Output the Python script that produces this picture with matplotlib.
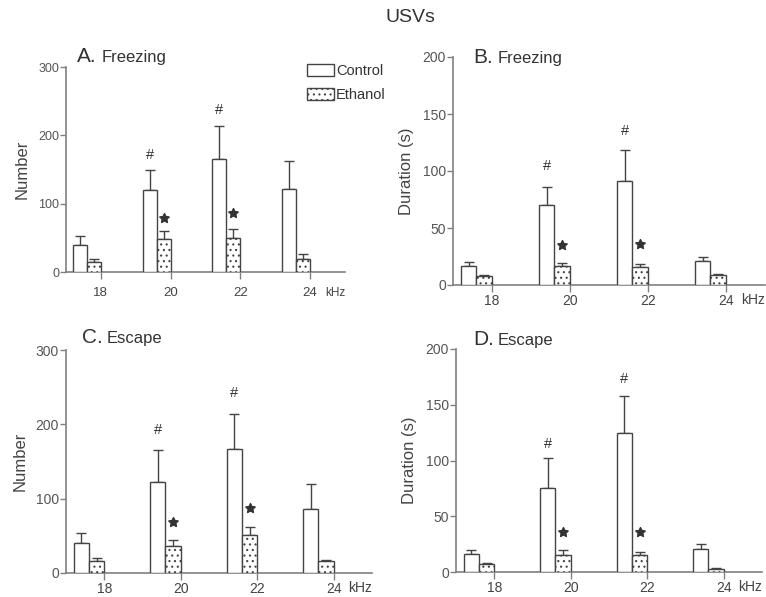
import matplotlib
matplotlib.use("Agg")
import matplotlib.pyplot as plt
from matplotlib.patches import Patch
import numpy as np

plt.rcParams['font.family'] = ['Liberation Sans', 'DejaVu Sans']
plt.rcParams['hatch.color'] = '#666666'
plt.rcParams['hatch.linewidth'] = 0.8

freqs = [18, 20, 22, 24]

# Panel A: Freezing, Number
a_ctrl = [40, 120, 165, 122]
a_ctrl_err = [53, 149, 214, 163]
a_eth = [15, 48, 50, 19]
a_eth_err = [19, 60, 63, 26]

# Panel B: Freezing, Duration
b_ctrl = [17, 70, 91, 21]
b_ctrl_err = [20, 86, 118, 25]
b_eth = [8, 17, 15.5, 9]
b_eth_err = [9, 19.5, 18, 9.5]

# Panel C: Escape, Number
c_ctrl = [41, 123, 167, 86]
c_ctrl_err = [54, 166, 214, 120]
c_eth = [15.5, 36, 51, 15.5]
c_eth_err = [20, 45, 62, 18]

# Panel D: Escape, Duration
d_ctrl = [16.5, 75.5, 125, 21]
d_ctrl_err = [19.5, 102, 158, 25.5]
d_eth = [7.5, 15, 15, 3]
d_eth_err = [8.5, 19.5, 18, 4]

sig_hash = [False, True, True, False]
sig_star = [False, True, True, False]

W, H = 766, 597
fig = plt.figure(figsize=(W / 100, H / 100), dpi=100)

def pos(left, bottom, width, height):
    return [left / W, 1 - bottom / H, width / W, height / H]

panels = [
    dict(rect=pos(66, 272, 279, 205), ymax=300, yticks=[0, 100, 200, 300],
         ylabel='Number', letter='A.', name='Freezing',
         ctrl=a_ctrl, ctrl_err=a_ctrl_err, eth=a_eth, eth_err=a_eth_err,
         hash_y=[0, 171, 237, 0], star_y=[0, 79, 86, 0], tfs=9, xfs=9.5, kfs=8.5,
         xpad=6, kdy=21, title=(77, 102, 62)),
    dict(rect=pos(453, 285, 312, 228), ymax=200, yticks=[0, 50, 100, 150, 200],
         ylabel='Duration (s)', letter='B.', name='Freezing',
         ctrl=b_ctrl, ctrl_err=b_ctrl_err, eth=b_eth, eth_err=b_eth_err,
         hash_y=[0, 104, 135, 0], star_y=[0, 35, 36, 0], tfs=10, xfs=10, kfs=10,
         xpad=1.5, kdy=15, title=(473, 498, 63)),
    dict(rect=pos(66, 573, 306, 223), ymax=300, yticks=[0, 100, 200, 300],
         ylabel='Number', letter='C.', name='Escape',
         ctrl=c_ctrl, ctrl_err=c_ctrl_err, eth=c_eth, eth_err=c_eth_err,
         hash_y=[0, 193, 242, 0], star_y=[0, 68, 87, 0], tfs=10, xfs=10, kfs=10,
         xpad=1.5, kdy=15, title=(82, 107, 343)),
    dict(rect=pos(456, 572, 306, 223), ymax=200, yticks=[0, 50, 100, 150, 200],
         ylabel='Duration (s)', letter='D.', name='Escape',
         ctrl=d_ctrl, ctrl_err=d_ctrl_err, eth=d_eth, eth_err=d_eth_err,
         hash_y=[0, 115, 173, 0], star_y=[0, 36, 36, 0], tfs=10, xfs=10, kfs=10,
         xpad=1.5, kdy=15, title=(473, 498, 345)),
]

edge = '#444444'
spine = '#808080'
bw = 0.4

for p in panels:
    ax = fig.add_axes(p['rect'])
    x = np.array(freqs, dtype=float)
    xc = x - 0.6
    xe = x - 0.2
    ctrl = np.array(p['ctrl']); ce = np.array(p['ctrl_err']) - ctrl
    eth = np.array(p['eth']); ee = np.array(p['eth_err']) - eth
    ax.bar(xc, ctrl, width=bw, color='white', edgecolor=edge, linewidth=1.0, zorder=3)
    ax.bar(xe, eth, width=bw, color='white', edgecolor=edge, linewidth=1.0,
           hatch='...', zorder=3)
    ax.errorbar(xc, ctrl, yerr=[np.zeros_like(ce), ce], fmt='none', ecolor=edge,
                elinewidth=1.0, capsize=3.5, capthick=1.0, zorder=2)
    ax.errorbar(xe, eth, yerr=[np.zeros_like(ee), ee], fmt='none', ecolor=edge,
                elinewidth=1.0, capsize=3.5, capthick=1.0, zorder=2)
    hx = [xc[i] for i in range(4) if sig_hash[i]]
    hy = [p['hash_y'][i] for i in range(4) if sig_hash[i]]
    for xx, yy in zip(hx, hy):
        ax.text(xx, yy, '#', ha='center', va='center', fontsize=10.5,
                color='#333333')
    sx = [xe[i] for i in range(4) if sig_star[i]]
    sy = [p['star_y'][i] for i in range(4) if sig_star[i]]
    ax.plot(sx, sy, linestyle='none', marker=(5, 1, 0), markersize=7.5,
            color='#333333', markeredgewidth=0.8, zorder=4)
    ax.set_xlim(17, 25)
    ax.set_ylim(0, p['ymax'])
    ax.set_yticks(p['yticks'])
    ax.set_xticks(freqs)
    ax.set_xticklabels([str(f) for f in freqs])
    for s in ['top', 'right']:
        ax.spines[s].set_visible(False)
    for s in ['left', 'bottom']:
        ax.spines[s].set_color(spine)
        ax.spines[s].set_linewidth(1.2)
    ax.tick_params(axis='y', direction='out', length=4, width=1, color=spine,
                   labelsize=p['tfs'], labelcolor='#555555', pad=1)
    ax.tick_params(axis='x', direction='out', length=5, width=1, color=spine,
                   labelsize=p['xfs'], labelcolor='#444444', pad=p['xpad'])
    ax.set_ylabel(p['ylabel'], fontsize=12, color='#444444', labelpad=6)
    ax.annotate('kHz', xy=(1.0, 0.0), xycoords='axes fraction',
                xytext=(0, -p['kdy'] * 0.72), textcoords='offset points',
                ha='right', va='center', fontsize=p['kfs'], color='#444444')
    lx, nx, by = p['title']
    fig.text(lx / W, 1 - by / H, p['letter'], ha='left', va='baseline',
             fontsize=15, color='#333333')
    fig.text(nx / W, 1 - by / H, p['name'], ha='left', va='baseline',
             fontsize=12, color='#333333')
    ax.set_facecolor('none')

fig.text(410 / W, 1 - 18 / H, 'USVs', ha='center', va='center', fontsize=14,
         color='#333333')

handles = [Patch(facecolor='white', edgecolor=edge, linewidth=1.0, label='Control'),
           Patch(facecolor='white', edgecolor=edge, linewidth=1.0, hatch='...',
                 label='Ethanol')]
fig.legend(handles=handles, loc='upper left', bbox_to_anchor=(307 / W, 1 - 64 / H),
           frameon=False, fontsize=10.5, handlelength=1.85, handleheight=0.9,
           handletextpad=0.15, labelspacing=0.7, borderpad=0, borderaxespad=0,
           labelcolor='#333333')

fig.savefig('out.png', dpi=100)
